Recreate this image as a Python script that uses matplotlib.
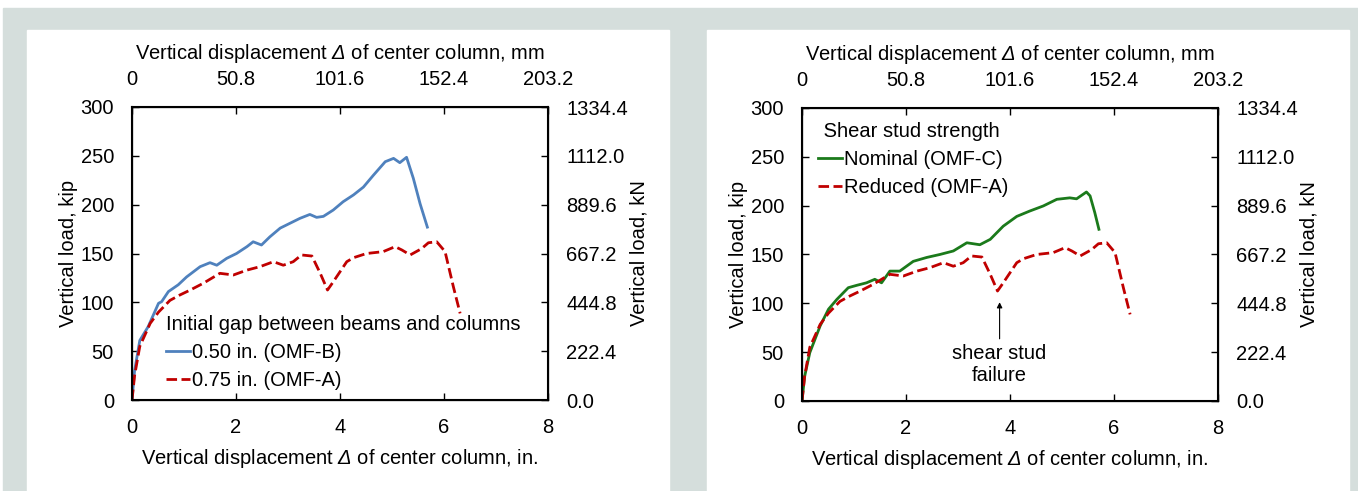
#plot.py

#load-displacement curves of the three OMF specimens, two panels

import matplotlib
matplotlib.use('Agg')
import matplotlib.pyplot as plt
from matplotlib.patches import Rectangle

plt.rcParams['font.family'] = ['Liberation Sans', 'DejaVu Sans']
plt.rcParams['mathtext.fontset'] = 'custom'
plt.rcParams['mathtext.rm'] = 'Liberation Sans:italic'  #only the Delta is math text

#data (displacement in., load kip)
omfb_x = [0, 0.05, 0.15, 0.31, 0.51, 0.57, 0.70, 0.89, 1.05, 1.31, 1.50, 1.63, 1.82, 2.01, 2.21,
          2.33, 2.49, 2.65, 2.85, 3.04, 3.23, 3.42, 3.55, 3.68, 3.87, 4.06, 4.26, 4.45, 4.64,
          4.87, 5.03, 5.15, 5.28, 5.41, 5.54, 5.68]
omfb_y = [0, 30, 61, 75, 99, 100.7, 111, 118, 126, 136.5, 140.6, 138, 145, 150, 157,
          162, 158.7, 167, 176, 181, 186, 190, 187, 188, 194.5, 203, 210, 218, 230,
          244, 247.4, 243, 248.5, 227, 201, 177]

omfa_x = [0, 0.05, 0.15, 0.35, 0.51, 0.73, 0.92, 1.12, 1.37, 1.69, 1.95, 2.21, 2.46, 2.72, 2.91,
          3.10, 3.26, 3.46, 3.62, 3.76, 3.87, 4.13, 4.26, 4.51, 4.83, 5.06, 5.19, 5.35, 5.57,
          5.70, 5.86, 6.02, 6.18, 6.31]
omfa_y = [0, 25, 55, 78.5, 90, 102, 107.5, 112.6, 119.5, 129.7, 128, 133, 136.5, 141.6, 138,
          141.6, 148.5, 147.4, 129.7, 112.6, 121, 141.6, 145.7, 150, 151.9, 157, 153.6, 148.5, 155,
          161, 162, 152, 116, 88.7]

omfc_x = [0, 0.05, 0.15, 0.35, 0.51, 0.67, 0.89, 1.05, 1.24, 1.40, 1.53, 1.69, 1.88, 2.14, 2.40,
          2.65, 2.91, 3.17, 3.42, 3.62, 3.87, 4.13, 4.38, 4.64, 4.90, 5.15, 5.28, 5.47, 5.54,
          5.63, 5.71]
omfc_y = [0, 25, 49.5, 77, 94, 104, 116, 118.4, 121, 124.6, 121, 133, 133, 143, 147,
          150, 153.6, 162, 160, 165.5, 179, 189, 194.5, 199.7, 206.5, 208, 207, 214, 210,
          193, 175.8]

in_ticks = [0, 2, 4, 6, 8]
mm_labels = ['0', '50.8', '101.6', '152.4', '203.2']
kip_ticks = [0, 50, 100, 150, 200, 250, 300]
kn_labels = ['0.0', '222.4', '444.8', '667.2', '889.6', '1112.0', '1334.4']

blue = '#4f81bd'
red = '#c00000'
green = '#1b7a1b'
fs = 14.5

fig = plt.figure(figsize=(13.58, 4.91), dpi=100)

#grey frame behind the two white panels
W, H = 1358, 491
def rect(x0, y0, x1, y1, c):
    fig.patches.append(Rectangle((x0/W, 1-y1/H), (x1-x0)/W, (y1-y0)/H,
                                 transform=fig.transFigure, color=c, zorder=-10))
rect(3, 8, W, H, '#d5dedc')
rect(27, 30, 669, H, 'white')
rect(707, 30, 1349, H, 'white')

xlab = r'Vertical displacement $\Delta$ of center column, '

def setup(ax):
    ax.set_xlim(0, 8)
    ax.set_ylim(0, 300)
    ax.set_xticks(in_ticks)
    ax.set_yticks(kip_ticks)
    ax.tick_params(direction='in', length=5, width=1, pad=13, labelsize=fs)
    ax.set_xlabel(xlab + 'in.', fontsize=fs, labelpad=7.5)
    ax.set_ylabel('Vertical load, kip', fontsize=fs, labelpad=2)
    for s in ax.spines.values():
        s.set_linewidth(1.5)
    axr = ax.twinx()
    axr.set_ylim(0, 300)
    axr.set_yticks(kip_ticks)
    axr.set_yticklabels(kn_labels)
    axr.tick_params(direction='in', length=5, width=1, pad=13, labelsize=fs)
    axr.set_ylabel('Vertical load, kN', fontsize=fs, labelpad=1)
    axt = ax.twiny()
    axt.set_xlim(0, 8)
    axt.set_xticks(in_ticks)
    axt.set_xticklabels(mm_labels)
    axt.tick_params(direction='in', length=5, width=1, pad=13, labelsize=fs)
    axt.set_xlabel(xlab + 'mm', fontsize=fs, labelpad=8)

ax1 = fig.add_axes([132/W, 1-400/H, 416/W, 293/H])
setup(ax1)
l1, = ax1.plot(omfb_x, omfb_y, color=blue, lw=2, label='0.50 in. (OMF-B)')
l2, = ax1.plot(omfa_x, omfa_y, color=red, lw=2, dashes=(3.8, 1.6), label='0.75 in. (OMF-A)')
ax1.legend(handles=[l1, l2], title='Initial gap between beams and columns',
           loc='upper left', bbox_to_anchor=(0.082, 0.29), frameon=False,
           fontsize=fs, title_fontsize=fs, borderpad=0, borderaxespad=0,
           handlelength=1.2, handletextpad=0.1, labelspacing=0.45, alignment='left')

ax2 = fig.add_axes([802/W, 1-401/H, 416/W, 293/H])
setup(ax2)
g1, = ax2.plot(omfc_x, omfc_y, color=green, lw=2, label='Nominal (OMF-C)')
g2, = ax2.plot(omfa_x, omfa_y, color=red, lw=2, dashes=(3.8, 1.6), label='Reduced (OMF-A)')
ax2.legend(handles=[g1, g2], title=' Shear stud strength',
           loc='upper left', bbox_to_anchor=(0.038, 0.952), frameon=False,
           fontsize=fs, title_fontsize=fs, borderpad=0, borderaxespad=0,
           handlelength=1.2, handletextpad=0.1, labelspacing=0.45, alignment='left')
ax2.annotate('shear stud\nfailure', xy=(3.8, 104), xytext=(3.8, 37),
             ha='center', va='center', fontsize=fs,
             arrowprops=dict(arrowstyle='-|>', color='black', lw=0.8, mutation_scale=8))

fig.savefig('out.png', dpi=100)
